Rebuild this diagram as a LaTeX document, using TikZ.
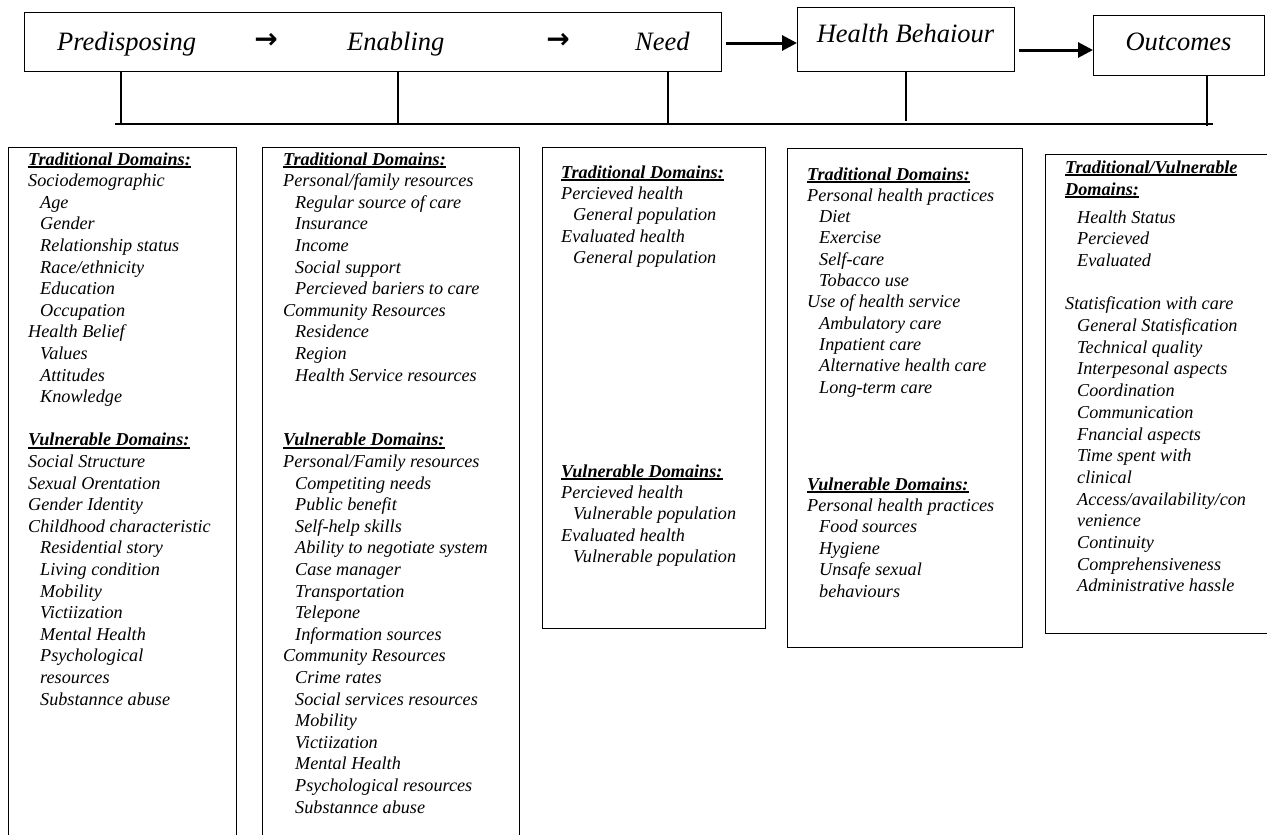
\documentclass[tikz,border=0pt]{standalone}
\usepackage{fontspec}
\setmainfont{Liberation Serif}
\newfontfamily\arrowfont{DejaVu Sans}
\usetikzlibrary{arrows.meta}
\newcommand\hdline[1]{\setbox0=\hbox{\bfseries\itshape #1}\rlap{\rule[-3pt]{\wd0}{1.6pt}}\box0}
\newcommand\textcol[5]{%
  \foreach \kk/\txt [count=\ii from 0] in {#5}{%
    \ifcase\kk\relax
      \node[item] (#1-\ii) at (#2, #3+\ii*#4) {\txt};
    \or
      \node[item] (#1-\ii) at (#2+12, #3+\ii*#4) {\txt};
    \or
      \node[head] (#1-\ii) at (#2, #3+\ii*#4) {\hdline{\txt}};
    \or
    \fi}}
\begin{document}
\begin{tikzpicture}[x=1pt,y=-1pt,
  frame/.style={draw, line width=1.1pt, inner sep=0pt, anchor=north west},
  toplabel/.style={font=\fontsize{26.5}{30}\selectfont\itshape, inner sep=0pt, anchor=base west},
  arrowsym/.style={font=\fontsize{28}{30}\selectfont\arrowfont\bfseries, inner sep=0pt, anchor=base},
  item/.style={font=\fontsize{18.2}{21.6}\selectfont\itshape, inner sep=0pt, anchor=base west},
  head/.style={font=\fontsize{18.2}{21.6}\selectfont, inner sep=0pt, anchor=base west},
  conn/.style={line width=1.1pt},
  bigarrow/.style={line width=3pt, -{Triangle[length=15pt,width=15pt]}}]
\useasboundingbox (0,0) rectangle (1267,835);
\clip (0,0) rectangle (1267,835);
\fill[white] (0,0) rectangle (1267,835);

% top row
\node[frame, minimum width=697pt, minimum height=59pt] (pen) at (24,12) {};
\node[toplabel] (pred) at (57,50) {Predisposing};
\node[arrowsym] (ar1) at (266,48) {→};
\node[toplabel] (enab) at (347,50) {Enabling};
\node[arrowsym] (ar2) at (558,48) {→};
\node[toplabel] (need) at (635,50) {Need};

\node[frame, minimum width=217pt, minimum height=64pt] (hb) at (797,7) {};
\node[toplabel, anchor=base] (hbt) at (905.5,42) {Health Behaiour};

\node[frame, minimum width=171pt, minimum height=60pt] (out) at (1093,15) {};
\node[toplabel, anchor=base] (outt) at (1178.5,50) {Outcomes};

\coordinate (y1) at (0,43);
\coordinate (y2) at (0,50);
\draw[bigarrow, shorten <=4pt] (pen.east |- y1) -- (hb.west |- y1);
\draw[bigarrow, shorten <=4pt] (hb.east |- y2) -- (out.west |- y2);

% bus
\coordinate (busL) at (115,124);
\coordinate (busR) at (1213,124);
\draw[conn] (busL) -- (busR);
\coordinate (v1) at (121,124);
\coordinate (v2) at (398,124);
\coordinate (v3) at (668,124);
\coordinate (v4) at (906,121);
\coordinate (v5) at (1207,126);
\draw[conn] (pen.south -| v1) -- (v1);
\draw[conn] (pen.south -| v2) -- (v2);
\draw[conn] (pen.south -| v3) -- (v3);
\draw[conn] (hb.south -| v4) -- (v4);
\draw[conn] (out.south -| v5) -- (v5);

% column frames
\node[frame, minimum width=228pt, minimum height=700pt] (c1) at (8,147) {};
\node[frame, minimum width=257pt, minimum height=700pt] (c2) at (262,147) {};
\node[frame, minimum width=223pt, minimum height=481pt] (c3) at (542,147) {};
\node[frame, minimum width=235pt, minimum height=499pt] (c4) at (787,148) {};
\node[frame, minimum width=240pt, minimum height=479pt] (c5) at (1045,154) {};

% column texts
\textcol{ta}{28}{165}{21.6}{2/{Traditional Domains:}, 0/Sociodemographic, 1/Age, 1/Gender, 1/{Relationship status}, 1/{Race/ethnicity}, 1/Education, 1/Occupation, 0/{Health Belief}, 1/Values, 1/Attitudes, 1/Knowledge, 3/{}, 2/{Vulnerable Domains:}, 0/{Social Structure}, 0/{Sexual Orentation}, 0/{Gender Identity}, 0/{Childhood characteristic}, 1/{Residential story}, 1/{Living condition}, 1/Mobility, 1/Victiization, 1/{Mental Health}, 1/Psychological, 1/resources, 1/{Substannce abuse}}

\textcol{tb}{283}{165}{21.6}{2/{Traditional Domains:}, 0/{Personal/family resources}, 1/{Regular source of care}, 1/Insurance, 1/Income, 1/{Social support}, 1/{Percieved bariers to care}, 0/{Community Resources}, 1/Residence, 1/Region, 1/{Health Service resources}, 3/{}, 3/{}, 2/{Vulnerable Domains:}, 0/{Personal/Family resources}, 1/{Competiting needs}, 1/{Public benefit}, 1/{Self-help skills}, 1/{Ability to negotiate system}, 1/{Case manager}, 1/Transportation, 1/Telepone, 1/{Information sources}, 0/{Community Resources}, 1/{Crime rates}, 1/{Social services resources}, 1/Mobility, 1/Victiization, 1/{Mental Health}, 1/{Psychological resources}, 1/{Substannce abuse}}

\textcol{tc}{561}{178}{21.4}{2/{Traditional Domains:}, 0/{Percieved health}, 1/{General population}, 0/{Evaluated health}, 1/{General population}}
\textcol{td}{561}{477}{21.4}{2/{Vulnerable Domains:}, 0/{Percieved health}, 1/{Vulnerable population}, 0/{Evaluated health}, 1/{Vulnerable population}}

\textcol{te}{807}{180}{21.3}{2/{Traditional Domains:}, 0/{Personal health practices}, 1/Diet, 1/Exercise, 1/Self-care, 1/{Tobacco use}, 0/{Use of health service}, 1/{Ambulatory care}, 1/{Inpatient care}, 1/{Alternative health care}, 1/{Long-term care}}
\textcol{tf}{807}{490}{21.4}{2/{Vulnerable Domains:}, 0/{Personal health practices}, 1/{Food sources}, 1/Hygiene, 1/{Unsafe sexual}, 1/behaviours}

\textcol{tg}{1065}{173}{22}{2/{Traditional/Vulnerable}, 2/{Domains:}}
\textcol{th}{1065}{223}{21.7}{1/{Health Status}, 1/Percieved, 1/Evaluated, 3/{}, 0/{Statisfication with care}, 1/{General Statisfication}, 1/{Technical quality}, 1/{Interpesonal aspects}, 1/Coordination, 1/Communication, 1/{Fnancial aspects}, 1/{Time spent with}, 1/clinical, 1/{Access/availability/con}, 1/venience, 1/Continuity, 1/Comprehensiveness, 1/{Administrative hassle}}
\end{tikzpicture}
\end{document}
